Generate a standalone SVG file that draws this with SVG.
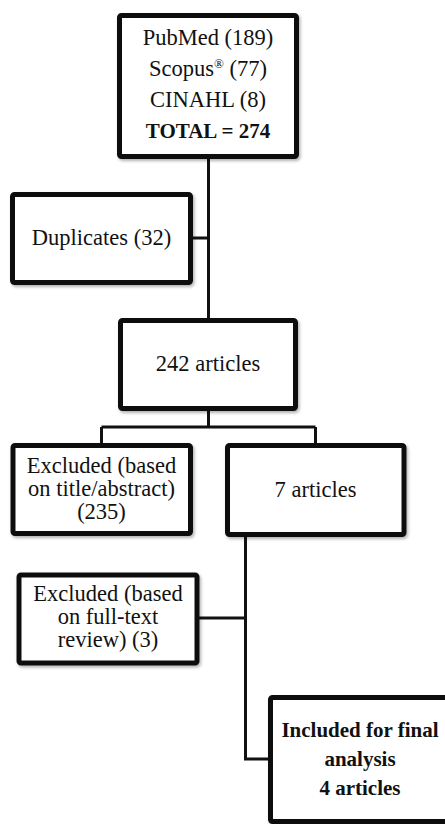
<svg xmlns="http://www.w3.org/2000/svg" width="445" height="824" viewBox="0 0 445 824">
<defs>
<filter id="sh" x="-10%" y="-10%" width="125%" height="125%">
<feDropShadow dx="1.5" dy="2" stdDeviation="1.5" flood-color="#000" flood-opacity="0.3"/>
</filter>
</defs>
<style>
.box{fill:#fff;stroke:#111;stroke-width:5;filter:url(#sh)}
text{font-family:"Liberation Serif","Times New Roman",serif;font-size:22.5px;fill:#111;text-anchor:middle}
.b{font-weight:bold;font-size:21px}
.c{fill:none;stroke:#111;stroke-width:3}
</style>
<rect width="445" height="824" fill="#fff"/>
<g id="connectors">
<path class="c" d="M208.5 156V320"/>
<path class="c" d="M190 238H208.5"/>
<path class="c" d="M208.5 408V427M101.5 427H315.5M101.5 427V446M315.5 427V446"/>
<path class="c" d="M245.5 534V759H270"/>
<path class="c" d="M197 618H245.5"/>
</g>
<g id="sources">
<rect class="box" x="119.5" y="15.5" width="177" height="141" rx="2"/>
<text x="208" y="45">PubMed (189)</text>
<text x="208" y="76">Scopus<tspan font-size="13" dy="-8">®</tspan><tspan dy="8"> (77)</tspan></text>
<text x="208" y="107">CINAHL (8)</text>
<text class="b" x="208" y="138">TOTAL = 274</text>
</g>
<g id="duplicates">
<rect class="box" x="12.5" y="194.5" width="178" height="88" rx="2"/>
<text x="101.5" y="245">Duplicates (32)</text>
</g>
<g id="n242">
<rect class="box" x="120.5" y="320.5" width="175" height="88" rx="2"/>
<text x="208" y="371">242 articles</text>
</g>
<g id="excluded1">
<rect class="box" x="13" y="445.5" width="177.5" height="88" rx="2"/>
<text x="101.5" y="473">Excluded (based</text>
<text x="101.5" y="496">on title/abstract)</text>
<text x="101.5" y="519">(235)</text>
</g>
<g id="n7">
<rect class="box" x="227.5" y="445.5" width="176.5" height="89" rx="2"/>
<text x="315.5" y="497">7 articles</text>
</g>
<g id="excluded2">
<rect class="box" x="19" y="575" width="178" height="88" rx="2"/>
<text x="108" y="601">Excluded (based</text>
<text x="108" y="624">on full-text</text>
<text x="108" y="647">review) (3)</text>
</g>
<g id="included">
<rect class="box" x="270.5" y="697.5" width="200" height="124" rx="2"/>
<text class="b" x="360" y="737">Included for final</text>
<text class="b" x="360" y="766">analysis</text>
<text class="b" x="360" y="795">4 articles</text>
</g>
</svg>
